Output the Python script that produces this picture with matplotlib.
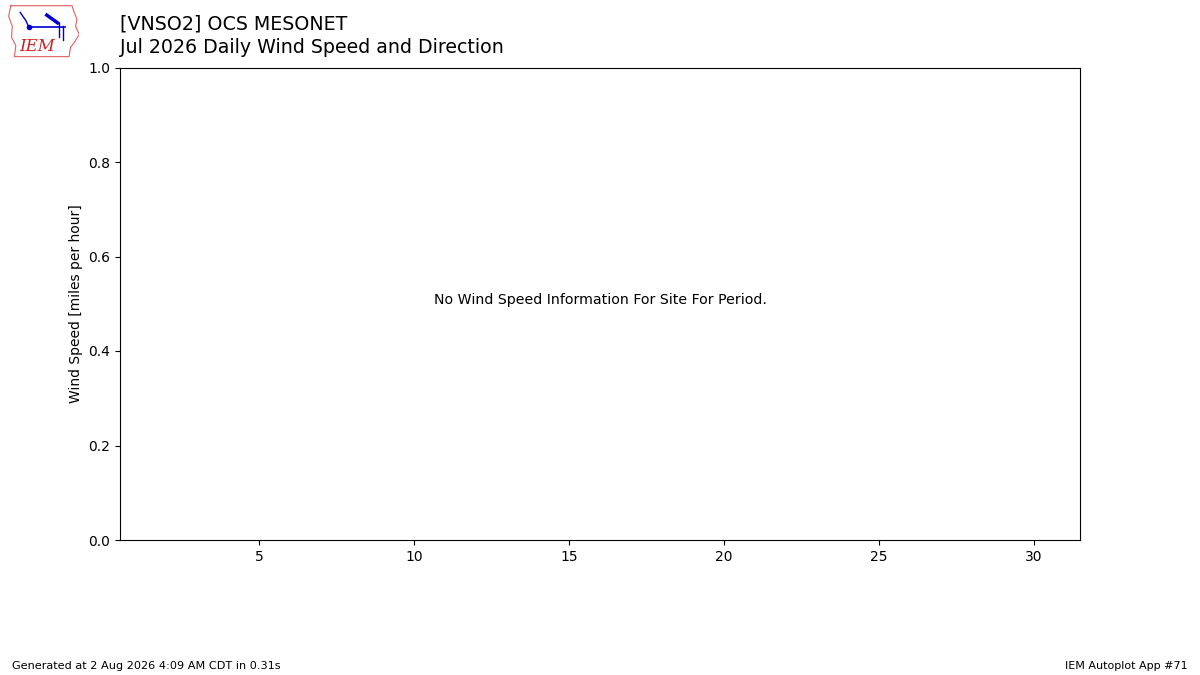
import matplotlib
matplotlib.use("Agg")
import matplotlib.pyplot as plt

title_lines = ["[VNSO2] OCS MESONET", "Jul 2026 Daily Wind Speed and Direction"]
ylabel = "Wind Speed [miles per hour]"
message = "No Wind Speed Information For Site For Period."
footer_left = "Generated at 2 Aug 2026 4:09 AM CDT in 0.31s"
footer_right = "IEM Autoplot App #71"
xticks = [5, 10, 15, 20, 25, 30]
xlim = (0.5, 31.5)
ylim = (0.0, 1.0)

# rough Iowa outline for the logo
iowa_x = [0.05, 0.90, 0.93, 0.97, 0.95, 1.0, 0.93, 0.88, 0.86, 0.10, 0.12, 0.06, 0.07, 0.02, 0.05]
iowa_y = [0.97, 0.97, 0.85, 0.72, 0.60, 0.45, 0.30, 0.22, 0.05, 0.05, 0.25, 0.40, 0.60, 0.78, 0.97]

fig = plt.figure(figsize=(12, 6.75), dpi=100)
ax = fig.add_axes([0.1, 0.2, 0.8, 0.7])
ax.set_xlim(*xlim)
ax.set_ylim(*ylim)
ax.set_xticks(xticks)
ax.set_ylabel(ylabel)
ax.text(0.5, 0.5, message, transform=ax.transAxes, ha="center", fontsize=10.2)

fig.text(0.1, 0.9644, title_lines[0], fontsize=13.7, ha="left", va="center")
fig.text(0.1, 0.929, title_lines[1], fontsize=13.7, ha="left", va="center")

fig.text(0.01, 0.009, footer_left, fontsize=8.15, ha="left")
fig.text(0.99, 0.009, footer_right, fontsize=8, ha="right")

# logo
lax = fig.add_axes([0.006, 0.912, 0.06, 0.082])
lax.set_xlim(0, 1)
lax.set_ylim(0, 1)
lax.axis("off")
lax.plot(iowa_x, iowa_y, color="#e06060", lw=0.8)
lax.plot([0.30, 0.80], [0.58, 0.58], color="#0000cc", lw=1.2)
lax.plot([0.30], [0.58], "o", color="#0000cc", ms=3)
lax.plot([0.18, 0.26, 0.30], [0.85, 0.70, 0.58], color="#0000cc", lw=1)
lax.plot([0.55, 0.70], [0.80, 0.66], color="#0000cc", lw=2.5)
lax.plot([0.72, 0.72], [0.66, 0.40], color="#0000cc", lw=1)
lax.plot([0.78, 0.78], [0.60, 0.35], color="#0000cc", lw=1)
lax.text(0.42, 0.24, "IEM", color="#cc2222", fontsize=12, fontstyle="italic",
         family="serif", ha="center", va="center")

fig.savefig("out.png", dpi=100)
